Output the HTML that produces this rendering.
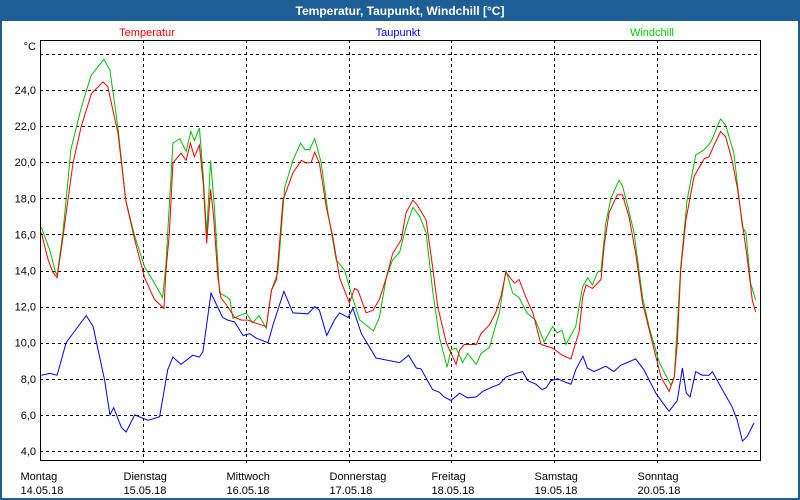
<!DOCTYPE html>
<html><head><meta charset="utf-8"><style>
html,body{margin:0;padding:0;background:#fff;}
svg{display:block;font-family:"Liberation Sans",sans-serif;}
</style></head><body>
<svg width="800" height="500" viewBox="0 0 800 500">
<rect x="0" y="0" width="800" height="500" fill="#1d5e94"/>
<rect x="2" y="21" width="796" height="477" fill="#fff"/>
<text x="400" y="15" text-anchor="middle" fill="#fff" font-weight="bold" font-size="12">Temperatur, Taupunkt, Windchill [°C]</text>
<text x="147" y="36" text-anchor="middle" fill="#ff0000" font-size="11">Temperatur</text>
<text x="398" y="36" text-anchor="middle" fill="#0000ff" font-size="11">Taupunkt</text>
<text x="652" y="36" text-anchor="middle" fill="#00cc00" font-size="11">Windchill</text>
<text x="36" y="50" text-anchor="end" font-size="11" fill="#000">°C</text>
<g id="grid" shape-rendering="crispEdges"></g>
<g id="series"></g>
<rect x="40.5" y="40.5" width="720" height="420" fill="none" stroke="#000" stroke-width="1" shape-rendering="crispEdges"/>
</svg>
<script>
const dayNames = ["Montag","Dienstag","Mittwoch","Donnerstag","Freitag","Samstag","Sonntag"];
const dayDates = ["14.05.18","15.05.18","16.05.18","17.05.18","18.05.18","19.05.18","20.05.18"];
const yTicks = [4,6,8,10,12,14,16,18,20,22,24,26];
const tempHours = [0.3,1.9,3.0,4.0,5.4,6.5,7.7,9.6,12.0,14.7,15.8,18.2,20.0,22.1,24.4,26.7,28.9,29.4,30.2,31.0,32.9,34.1,35.1,36.0,37.2,38.1,38.9,39.8,40.5,41.5,42.2,43.8,45.4,47.0,48.5,50.1,52.8,54.0,55.2,56.7,59.0,61.0,62.2,63.3,64.1,65.2,66.8,68.3,69.9,72.2,73.4,74.2,76.1,77.7,79.2,80.8,82.3,84.3,85.4,87.0,88.1,90.1,91.6,92.8,94.8,97.1,97.9,99.0,101.8,102.9,104.9,106.4,107.6,108.7,110.7,111.8,113.4,115.0,116.9,119.6,121.9,123.9,125.0,125.8,126.6,127.4,128.9,130.9,131.7,132.8,134.7,135.9,137.4,139.0,140.6,142.9,144.9,146.8,148.0,148.7,149.5,150.7,152.6,155.0,156.1,157.3,158.8,160.0,161.5,162.7,163.9,165.0,166.2,167.0];
const tempValues = [16.1,14.6,13.9,13.6,15.9,17.9,19.95,21.95,23.8,24.45,24.2,21.6,17.9,15.7,13.6,12.4,11.9,14.0,16.1,19.95,20.5,20.1,21.06,20.3,20.95,18.8,15.5,18.5,17.0,13.6,12.5,12.0,11.4,11.25,11.25,11.1,10.9,12.9,13.5,17.9,19.4,20.1,19.95,20.0,20.55,19.95,17.5,15.9,13.6,12.2,13.0,12.9,11.65,11.8,12.4,13.6,14.95,15.7,17.2,17.9,17.6,16.8,14.2,12.0,10.0,8.8,9.6,9.9,9.9,10.5,11.0,11.7,12.6,13.9,13.3,13.5,12.5,11.65,9.9,9.7,9.3,9.1,10.0,10.6,12.5,13.2,13.0,13.5,15.5,17.2,18.2,18.2,17.0,14.95,12.2,10.0,8.1,7.3,8.1,10.0,14.0,16.8,19.2,20.2,20.3,20.95,21.7,21.4,20.1,18.6,16.6,14.75,12.35,11.7];
const windHours = [0.3,2.3,3.5,4.0,5.4,7.2,9.5,11.9,14.9,16.3,18.2,20.0,22.1,24.4,26.7,28.6,29.4,31.0,32.6,34.1,35.2,36.0,37.2,38.1,38.9,39.8,40.7,41.9,43.8,44.3,45.0,48.1,49.6,51.1,52.8,54.0,55.5,57.1,59.0,60.8,61.8,62.9,64.1,65.6,67.2,69.1,71.1,72.6,74.6,76.5,77.8,79.2,80.8,82.3,83.9,85.4,87.0,88.6,90.1,91.6,93.2,95.0,95.9,97.1,98.6,99.8,101.8,102.9,104.9,106.0,107.2,108.7,110.3,111.8,113.6,115.6,117.6,119.6,120.7,121.8,122.7,125.0,126.6,127.8,128.9,130.1,130.9,132.0,133.2,135.1,135.9,137.1,138.6,140.6,142.1,144.5,147.2,148.0,149.5,151.0,153.0,155.0,156.5,158.8,160.0,161.9,163.9,164.7,165.8,167.0];
const windValues = [16.4,15.1,14.0,13.7,16.2,20.7,22.9,24.8,25.7,25.1,21.9,17.9,15.9,14.2,13.3,12.5,14.4,21.06,21.3,20.6,21.7,21.2,21.9,19.2,16.0,20.1,17.5,12.75,12.5,12.4,11.35,11.65,11.1,11.5,10.8,12.9,13.9,18.6,20.1,21.06,20.7,20.7,21.3,20.0,17.2,14.6,14.0,12.75,11.25,10.9,10.65,11.4,13.6,14.6,15.0,16.4,17.5,17.0,16.1,12.9,10.3,8.65,9.6,9.7,8.9,9.4,8.8,9.4,9.75,10.7,11.65,14.0,12.75,12.5,11.65,11.25,10.05,10.9,10.55,10.7,9.9,10.9,13.1,13.6,13.2,13.9,14.0,16.6,18.0,19.0,18.7,17.6,16.1,12.5,10.9,8.9,7.65,8.1,14.2,17.9,20.4,20.7,21.1,22.4,22.05,20.5,16.4,16.1,13.3,12.35];
const dewHours = [0.3,2.3,4.0,6.1,8.9,10.8,12.4,15.1,16.3,17.2,19.0,20.1,22.1,25.2,27.9,29.8,31.0,32.9,35.6,37.2,38.0,39.9,42.6,43.8,45.4,47.4,48.9,50.5,53.2,54.4,56.9,59.0,62.5,64.1,65.2,66.9,68.7,69.9,71.9,73.0,75.0,78.4,83.9,86.0,87.8,88.9,91.6,93.2,94.3,95.9,97.9,99.8,101.8,103.3,105.6,107.2,108.7,111.1,112.6,113.8,115.7,117.1,118.1,119.2,120.8,122.7,123.9,125.0,126.7,127.7,129.3,132.0,133.9,135.5,139.0,140.9,143.7,145.2,146.8,148.7,149.9,150.8,151.7,153.0,154.5,156.1,156.9,159.2,161.5,162.7,163.9,165.0,166.6];
const dewValues = [8.2,8.3,8.2,10.0,10.9,11.5,10.9,7.9,6.0,6.4,5.3,5.05,6.0,5.7,5.9,8.5,9.2,8.8,9.3,9.2,9.5,12.75,11.4,11.25,11.15,10.4,10.5,10.25,10.0,11.0,12.85,11.65,11.6,12.0,11.8,10.4,11.25,11.65,11.4,11.9,10.5,9.15,8.9,9.3,8.6,8.55,7.4,7.25,7.0,6.8,7.2,6.95,7.0,7.3,7.55,7.7,8.1,8.3,8.4,7.9,7.7,7.4,7.5,7.9,8.0,7.8,7.7,8.5,9.25,8.6,8.4,8.7,8.4,8.75,9.1,8.5,7.2,6.7,6.2,6.8,8.6,7.2,7.0,8.4,8.2,8.2,8.4,7.4,6.45,5.7,4.55,4.8,5.55];

const NS = "http://www.w3.org/2000/svg";
const X0 = 40, X1 = 760, HOURS = 168;
function xScale(h){ return X0 + h * (X1 - X0) / HOURS; }
function yScale(v){ return 451 - (v - 4) * 18.05; }

const grid = document.getElementById('grid');
yTicks.forEach(function(v){
  const ln = document.createElementNS(NS,'line');
  ln.setAttribute('x1', X0); ln.setAttribute('x2', X1);
  ln.setAttribute('y1', Math.round(yScale(v))+0.5); ln.setAttribute('y2', Math.round(yScale(v))+0.5);
  ln.setAttribute('stroke','#000'); ln.setAttribute('stroke-dasharray','3,3');
  
  
  grid.appendChild(ln);
  if (v < 26) {
    const t = document.createElementNS(NS,'text');
    t.setAttribute('x', 36); t.setAttribute('y', yScale(v) + 4);
    t.setAttribute('text-anchor','end'); t.setAttribute('font-size','11');
    t.textContent = v.toFixed(1).replace('.', ',');
    
    
    grid.appendChild(t);
  }
});
dayNames.forEach(function(name, i){
  const gx = Math.round(xScale(i*24)) + 0.5;
  if (i > 0) {
    const ln = document.createElementNS(NS,'line');
    ln.setAttribute('x1', gx); ln.setAttribute('x2', gx);
    ln.setAttribute('y1', 40); ln.setAttribute('y2', 466);
    ln.setAttribute('stroke','#000'); ln.setAttribute('stroke-dasharray','3,3');
    
    
    grid.appendChild(ln);
  }
  const t1 = document.createElementNS(NS,'text');
  t1.setAttribute('x', gx - 20); t1.setAttribute('y', 480); t1.setAttribute('font-size','11');
  t1.textContent = name;
  
  
  grid.appendChild(t1);
  const t2 = document.createElementNS(NS,'text');
  t2.setAttribute('x', gx - 20); t2.setAttribute('y', 494); t2.setAttribute('font-size','11');
  t2.textContent = dayDates[i];
  
  
  grid.appendChild(t2);
});

const series = document.getElementById('series');
function drawLine(hours, vals, color, name){
  const p = document.createElementNS(NS,'polyline');
  p.setAttribute('points', hours.map(function(h,i){ return xScale(h).toFixed(1)+','+yScale(vals[i]).toFixed(1); }).join(' '));
  p.setAttribute('fill','none'); p.setAttribute('stroke', color); p.setAttribute('stroke-width','1');
  
  
  series.appendChild(p);
}
drawLine(dewHours, dewValues, '#0000ff', 'taupunkt-line');
drawLine(windHours, windValues, '#00c000', 'windchill-line');
drawLine(tempHours, tempValues, '#ff0000', 'temperatur-line');
</script>
</body></html>
